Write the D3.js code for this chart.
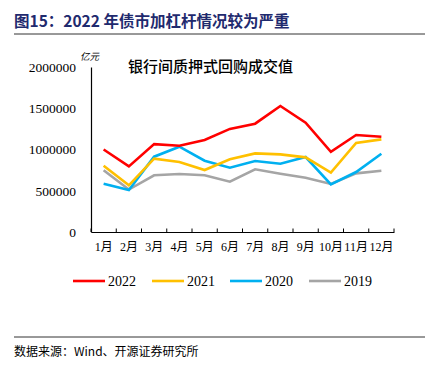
<!DOCTYPE html>
<html><head><meta charset="utf-8">
<script src="https://cdn.jsdelivr.net/npm/d3@7"></script>
<style>
body{margin:0;background:#fff;}
svg{display:block;}
</style></head>
<body>
<svg id="c" width="444" height="368"></svg>
<script>
const categories = ["1月","2月","3月","4月","5月","6月","7月","8月","9月","10月","11月","12月"];
const s2022 = [1000000, 795000, 1065000, 1045000, 1115000, 1250000, 1313000, 1527000, 1325000, 973000, 1176000, 1155000];
const s2021 = [804000, 566000, 889000, 848000, 751000, 881000, 953000, 941000, 905000, 719000, 1079000, 1123000];
const s2020 = [586000, 509000, 913000, 1034000, 864000, 780000, 861000, 828000, 909000, 578000, 727000, 949000];
const s2019 = [748000, 515000, 687000, 703000, 687000, 610000, 760000, 707000, 658000, 582000, 711000, 743000];
const seriesNames = ["2022","2021","2020","2019"];
const seriesColors = ["#ff0000","#ffc000","#00b0f0","#a5a5a5"];
const yTicks = [0, 500000, 1000000, 1500000, 2000000];

const series = [s2022, s2021, s2020, s2019];
const svg = d3.select("#c");
const serif = "'Liberation Serif','Noto Sans CJK SC',serif";
const cjk = "'Noto Sans CJK SC','Liberation Serif',sans-serif";

// Title
svg.append("text").attr("x",14).attr("y",27)
  .attr("font-family",cjk).attr("font-weight","bold").attr("font-size",15.5)
  .attr("fill","#1f2a6e").text("图15：2022 年债市加杠杆情况较为严重");
svg.append("line").attr("x1",14).attr("x2",425).attr("y1",34).attr("y2",34)
  .attr("stroke","#333").attr("stroke-width",1);

const x = d3.scaleBand().domain(categories).range([91,394]);
const y = d3.scaleLinear().domain([0,2000000]).range([232,67]);

// Y axis
const ya = svg.append("g").attr("transform","translate(91,0)")
  .call(d3.axisLeft(y).tickValues(yTicks).tickSize(0).tickPadding(15).tickFormat(d3.format("d")));
ya.select(".domain").attr("stroke","#000").attr("stroke-width",1.2);
ya.selectAll("text").attr("font-family",serif).attr("font-size",13.5).attr("fill","#000");

// X axis
const xa = svg.append("g").attr("transform","translate(0,232)")
  .call(d3.axisBottom(x).tickSize(0).tickPadding(10));
xa.select(".domain").attr("stroke","#000").attr("stroke-width",1.2);
xa.selectAll("text").attr("font-family",serif).attr("font-size",12).attr("fill","#000");
// band boundary ticks (inward)
const bounds = categories.map(c => x(c)).concat([x.range()[1]]);
svg.append("g").selectAll("line").data(bounds).join("line")
  .attr("x1",d=>d).attr("x2",d=>d).attr("y1",228.5).attr("y2",232)
  .attr("stroke","#000").attr("stroke-width",1);

// unit
svg.append("text").attr("x",80).attr("y",60).attr("font-family",cjk)
  .attr("font-size",9.5).attr("font-style","italic").attr("fill","#000").text("亿元");

// chart title
svg.append("text").attr("x",128).attr("y",72).attr("font-family",cjk)
  .attr("font-weight",500).attr("font-size",15).attr("fill","#000").text("银行间质押式回购成交值");

// lines
const line = d3.line().x((d,i)=>x(categories[i])+x.bandwidth()/2).y(d=>y(d));
series.slice().reverse().forEach((s,j)=>{
  const i = series.length-1-j;
  svg.append("path").datum(s).attr("d",line).attr("fill","none")
    .attr("stroke",seriesColors[i]).attr("stroke-width",2.6).attr("stroke-linejoin","miter");
});

// legend
const lx = [73,152,230,309];
seriesNames.forEach((n,i)=>{
  svg.append("line").attr("x1",lx[i]).attr("x2",lx[i]+32).attr("y1",281).attr("y2",281)
    .attr("stroke",seriesColors[i]).attr("stroke-width",2.6);
  svg.append("text").attr("x",lx[i]+35).attr("y",286).attr("font-family",serif)
    .attr("font-size",14).attr("fill","#000").text(n);
});

// footer
svg.append("line").attr("x1",14).attr("x2",425).attr("y1",337).attr("y2",337)
  .attr("stroke","#333").attr("stroke-width",1);
svg.append("text").attr("x",14).attr("y",356).attr("font-family",cjk)
  .attr("font-size",12).attr("fill","#000").text("数据来源：Wind、开源证券研究所");
</script>
</body></html>
